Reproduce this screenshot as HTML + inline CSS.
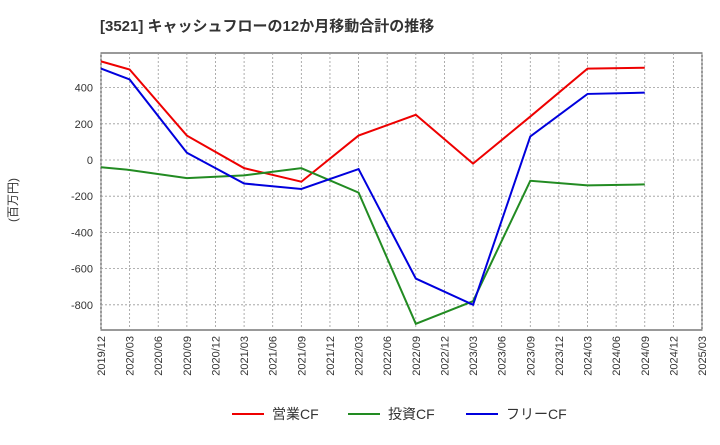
<!DOCTYPE html>
<html><head><meta charset="utf-8"><style>
body{margin:0;background:#fff;font-family:"Liberation Sans","Noto Sans CJK JP",sans-serif;}
</style></head><body>
<svg id="chart" width="720" height="440" xmlns="http://www.w3.org/2000/svg">
<text x="100" y="31" font-size="15" font-weight="bold" fill="#333" font-family="Liberation Sans, Noto Sans CJK JP, sans-serif">[3521]  キャッシュフローの12か月移動合計の推移</text>
<text transform="translate(17,200) rotate(-90)" text-anchor="middle" font-size="12" fill="#333" font-family="Liberation Sans, Noto Sans CJK JP, sans-serif">(百万円)</text>
<g id="grid"></g><g id="series"></g><g id="axes"></g>
<g font-size="14" fill="#333" font-family="Liberation Sans, Noto Sans CJK JP, sans-serif">
<line x1="232" y1="414" x2="264" y2="414" stroke="#e00" stroke-width="2"/><text x="272" y="419">営業CF</text>
<line x1="348" y1="414" x2="380" y2="414" stroke="#228b22" stroke-width="2"/><text x="388" y="419">投資CF</text>
<line x1="466" y1="414" x2="498" y2="414" stroke="#00d" stroke-width="2"/><text x="506" y="419">フリーCF</text>
</g>
</svg>
<script>
const categories=["2019/12","2020/03","2020/06","2020/09","2020/12","2021/03","2021/06","2021/09","2021/12","2022/03","2022/06","2022/09","2022/12","2023/03","2023/06","2023/09","2023/12","2024/03","2024/06","2024/09","2024/12","2025/03"];
const yTicks=[400,200,0,-200,-400,-600,-800];
const pointCats=["2019/12","2020/03","2020/09","2021/03","2021/09","2022/03","2022/09","2023/03","2023/09","2024/03","2024/09"];
const operatingCF=[545,500,135,-45,-120,135,250,-20,240,505,510];
const investingCF=[-40,-55,-100,-85,-45,-180,-905,-780,-115,-140,-135];
const freeCF=[505,445,40,-130,-160,-50,-655,-800,130,365,372];
const NS="http://www.w3.org/2000/svg";
const L=101,R=702,T=53,B=330;
const x=c=>L+categories.indexOf(c)*(R-L)/(categories.length-1);
const y=v=>160-v*0.181;
function mk(tag,attrs,parent){const e=document.createElementNS(NS,tag);for(const k in attrs)e.setAttribute(k,attrs[k]);parent.appendChild(e);return e;}
const grid=document.getElementById('grid'),axes=document.getElementById('axes'),ser=document.getElementById('series');
mk('rect',{x:L,y:T,width:R-L,height:B-T,fill:'#fff',stroke:'#333','stroke-width':1},grid);
categories.forEach(c=>{const g=mk('line',{x1:x(c),x2:x(c),y1:T,y2:B,stroke:'#999','stroke-dasharray':'2,2','stroke-width':0.8},grid);


const t=mk('text',{transform:`translate(${x(c)+4},${B+6}) rotate(-90)`,'text-anchor':'end','font-size':11,fill:'#333'},axes);t.textContent=c;

});
yTicks.forEach(v=>{const g=mk('line',{x1:L,x2:R,y1:y(v),y2:y(v),stroke:'#999','stroke-dasharray':'2,2','stroke-width':0.8},grid);


const t=mk('text',{x:L-8,y:y(v)+4,'text-anchor':'end','font-size':11,fill:'#333'},axes);t.textContent=v;

});
[[operatingCF,'#e00','operating-cf-line'],[investingCF,'#228b22','investing-cf-line'],[freeCF,'#00d','free-cf-line']].forEach(([d,col,n])=>{
const p=mk('polyline',{points:d.map((v,i)=>x(pointCats[i])+','+y(v)).join(' '),fill:'none',stroke:col,'stroke-width':2},ser);

});
</script>
</body></html>
